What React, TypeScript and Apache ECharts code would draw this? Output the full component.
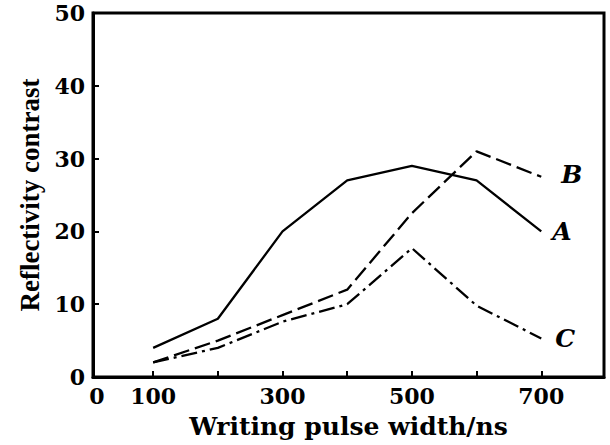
import React, { useEffect, useRef } from "react";
import * as echarts from "echarts";

const pulseWidths = [100, 200, 300, 400, 500, 600, 700];
const seriesA = [4, 8, 20, 27, 29, 27, 20];
const seriesB = [2, 5, 8.5, 12, 22.5, 31, 27.5];
const seriesC = [2, 4, 7.6, 10, 17.7, 9.8, 5.3];
const xTickValues = [100, 200, 300, 400, 500, 600, 700];
const xLabelValues = [13, 100, 300, 500, 700];
const xLabelTexts = ["0", "100", "300", "500", "700"];

const labelFont = "DejaVu Serif";

export default function App() {
  const ref = useRef<HTMLDivElement>(null);
  useEffect(() => {
    if (!ref.current) return;
    const chart = echarts.init(ref.current, undefined, { renderer: "svg" });
    const mk = (name: string, vals: number[], dash: any, off: number[]) => ({
      type: "line",
      name,
      data: pulseWidths.map((x, i) => [x, vals[i]]),
      symbol: "none",
      lineStyle: { color: "#000", width: 2.3, type: dash },
      endLabel: {
        show: true,
        formatter: name,
        distance: 8,
        offset: off,
        fontFamily: labelFont,
        fontStyle: "italic",
        fontWeight: "bold",
        fontSize: 25,
        color: "#000",
      },
    });
    chart.setOption({
      animation: false,
      backgroundColor: "#fff",
      grid: {
        left: 93,
        right: 6,
        top: 13,
        bottom: 68,
        show: true,
        borderColor: "#000",
        borderWidth: 3,
        backgroundColor: "transparent",
      },
      xAxis: {
        type: "value",
        min: 7,
        max: 797,
        name: "Writing pulse width/ns",
        nameLocation: "middle",
        nameGap: 37,
        nameTextStyle: {
          fontFamily: labelFont,
          fontWeight: "bold",
          fontSize: 25,
          color: "#000",
        },
        axisLine: { show: true, lineStyle: { color: "#000", width: 3 } },
        axisTick: {
          show: true,
          inside: true,
          length: 6,
          lineStyle: { color: "#000", width: 2 },
          customValues: xTickValues,
        },
        axisLabel: {
          customValues: xLabelValues,
          formatter: (v: number) => xLabelTexts[xLabelValues.indexOf(v)] ?? String(v),
          fontFamily: labelFont,
          fontWeight: "bold",
          fontSize: 22,
          color: "#000",
          margin: 8,
        },
        splitLine: { show: false },
      },
      yAxis: {
        type: "value",
        min: 0,
        max: 50,
        interval: 10,
        name: "Reflectivity contrast",
        nameLocation: "middle",
        nameGap: 50,
        nameTextStyle: {
          fontFamily: "Liberation Serif",
          fontWeight: "bold",
          fontSize: 27,
          color: "#000",
        },
        axisLine: { show: true, lineStyle: { color: "#000", width: 3 } },
        axisTick: {
          show: true,
          inside: true,
          length: 6,
          lineStyle: { color: "#000", width: 2 },
        },
        axisLabel: {
          fontFamily: labelFont,
          fontWeight: "bold",
          fontSize: 22,
          color: "#000",
          margin: 8,
        },
        splitLine: { show: false },
      },
      series: [
        mk("A", seriesA, "solid", [3, 0]),
        mk("B", seriesB, [16, 6], [12, -2]),
        mk("C", seriesC, [16, 5, 3, 5], [6, 0]),
      ],
    });
    return () => chart.dispose();
  }, []);
  return (
    <div
      ref={ref}
      style={{ position: "fixed", left: 0, top: 0, width: 610, height: 445, background: "#fff" }}
    />
  );
}
